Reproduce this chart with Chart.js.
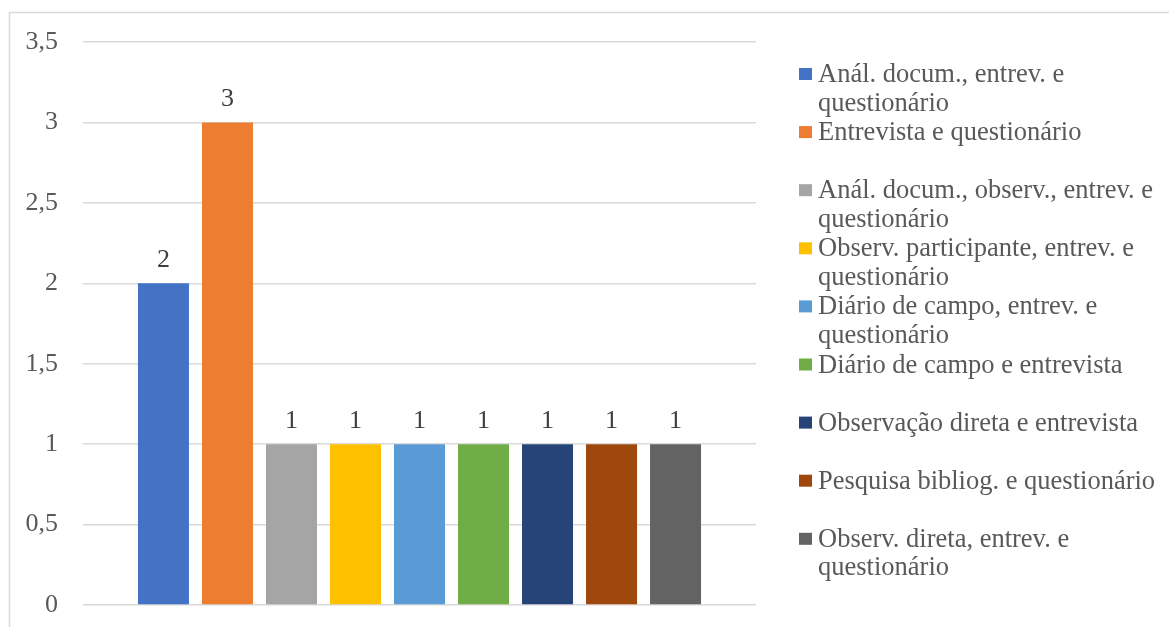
<!DOCTYPE html>
<html>
<head>
<meta charset="utf-8">
<script src="https://cdn.jsdelivr.net/npm/chart.js@4"></script>
<style>
  html, body { margin: 0; padding: 0; background: #fff; }
  #wrap { width: 1169px; height: 627px; position: relative; }
</style>
</head>
<body>
<div id="wrap"><canvas id="chart" width="1169" height="627"></canvas></div>
<script>
// series names (legend lines as they wrap in the original)
const seriesNames = [
    ["Anál. docum., entrev. e", "questionário"],
    ["Entrevista e questionário"],
    ["Anál. docum., observ., entrev. e", "questionário"],
    ["Observ. participante, entrev. e", "questionário"],
    ["Diário de campo, entrev. e", "questionário"],
    ["Diário de campo e entrevista"],
    ["Observação direta e entrevista"],
    ["Pesquisa bibliog. e questionário"],
    ["Observ. direta, entrev. e", "questionário"]
];
const seriesValues = [2, 3, 1, 1, 1, 1, 1, 1, 1];
const seriesColors = ["#4472C4", "#ED7D31", "#A5A5A5", "#FFC000", "#5B9BD5", "#70AD47", "#264478", "#9E480E", "#636363"];
const yTickLabels = ["0", "0,5", "1", "1,5", "2", "2,5", "3", "3,5"];

const FONT = "'Liberation Serif', 'Times New Roman', serif";

const datasets = seriesValues.map((v, i) => ({
    label: seriesNames[i].join(" "),
    data: [v],
    backgroundColor: seriesColors[i],
    borderWidth: 0,
    categoryPercentage: 0.856,
    barPercentage: 0.797
}));

// outer frame (only top and left edges are visible in the crop)
const framePlugin = {
    id: "frame",
    beforeDraw(chart) {
        const ctx = chart.ctx;
        ctx.save();
        ctx.strokeStyle = "#d9d9d9";
        ctx.lineWidth = 1.5;
        ctx.beginPath();
        ctx.moveTo(9.5, chart.height);
        ctx.lineTo(9.5, 12.5);
        ctx.lineTo(chart.width, 12.5);
        ctx.stroke();
        ctx.restore();
    }
};

// value labels above each bar
const valueLabels = {
    id: "valueLabels",
    afterDatasetsDraw(chart) {
        const ctx = chart.ctx;
        ctx.save();
        ctx.font = "26px " + FONT;
        ctx.fillStyle = "#404040";
        ctx.textAlign = "center";
        ctx.textBaseline = "alphabetic";
        chart.data.datasets.forEach((ds, i) => {
            const bar = chart.getDatasetMeta(i).data[0];
            ctx.fillText(String(ds.data[0]), bar.x, bar.y - 16);
        });
        ctx.restore();
    }
};

// legend on the right, wrapped lines, evenly spaced slots
const sideLegend = {
    id: "sideLegend",
    afterDraw(chart) {
        const ctx = chart.ctx;
        const x0 = 799, textX = 818, firstBase = 82, slot = 58.1, lineH = 28.5;
        ctx.save();
        ctx.font = "26.5px " + FONT;
        ctx.textBaseline = "alphabetic";
        ctx.textAlign = "left";
        seriesNames.forEach((lines, i) => {
            const base = firstBase + i * slot;
            ctx.fillStyle = seriesColors[i];
            ctx.fillRect(x0, base - 14, 13, 12);
            ctx.fillStyle = "#595959";
            lines.forEach((t, j) => ctx.fillText(t, textX, base + j * lineH));
        });
        ctx.restore();
    }
};

new Chart(document.getElementById("chart"), {
    type: "bar",
    data: { labels: [""], datasets: datasets },
    options: {
        responsive: false,
        animation: false,
        layout: { padding: { left: 0, right: 413, top: 42, bottom: 22 } },
        plugins: { legend: { display: false }, tooltip: { enabled: false } },
        scales: {
            x: { display: false },
            y: {
                min: 0,
                max: 3.5,
                afterFit(scale) {
                    scale.width = 83;
                    // tick padding would otherwise be added above/below the axis
                    scale.paddingTop = 0;
                    scale.paddingBottom = 0;
                },
                ticks: {
                    stepSize: 0.5,
                    padding: 25,
                    color: "#595959",
                    font: { family: FONT, size: 26 },
                    callback: (v, idx) => yTickLabels[idx]
                },
                grid: { color: "#d9d9d9", lineWidth: 1.5, drawTicks: false },
                border: { display: false }
            }
        }
    },
    plugins: [framePlugin, valueLabels, sideLegend]
});
</script>
</body>
</html>
